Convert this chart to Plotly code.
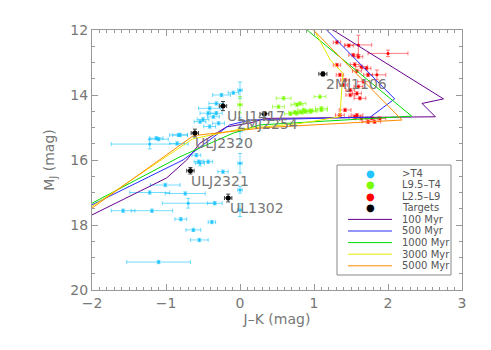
import plotly.graph_objects as go

# ---- data -------------------------------------------------------------
# >T4 (cyan)
t_x = [-1.01, -1.22, -0.74, -0.70, -0.34, -1.58, -1.19, -0.80, -0.63, -0.55,
       -1.10, -0.38, 0.00, 0.00, 0.00, -0.54, -0.23, -1.22, -1.10, -0.83,
       -0.85, -0.56, -0.59, -0.43, -1.13, -0.81, 0.00, -0.09, 0.00, -0.25,
       -0.32, -0.41, -0.43, -0.32, -0.50, -0.36, -0.41, -0.29, -0.54]
t_y = [16.77, 17.00, 17.03, 17.33, 17.33, 17.56, 17.56, 17.82, 18.15, 18.46,
       19.14, 17.91, 16.10, 16.92, 17.54, 16.10, 16.36, 15.51, 15.36, 15.23,
       15.49, 16.05, 15.85, 16.05, 15.33, 15.23, 15.10, 13.93, 13.85, 14.00,
       14.26, 14.41, 14.56, 14.56, 14.75, 14.67, 14.97, 14.87, 14.82]
t_xe = [0.20, 0.27, 0.27, 0.35, 0.10, 0.16, 0.28, 0.08, 0.10, 0.12,
        0.43, 0.05, 0.03, 0.03, 0.03, 0.06, 0.07, 0.52, 0.13, 0.12,
        0.10, 0.06, 0.06, 0.06, 0.09, 0.10, 0.03, 0.07, 0.03, 0.12,
        0.10, 0.15, 0.11, 0.08, 0.08, 0.08, 0.08, 0.08, 0.08]
t_ye = [0.05, 0.05, 0.05, 0.15, 0.05, 0.05, 0.05, 0.05, 0.05, 0.05,
        0.05, 0.05, 0.30, 0.10, 0.20, 0.08, 0.05, 0.15, 0.05, 0.05,
        0.05, 0.05, 0.05, 0.05, 0.05, 0.05, 0.40, 0.05, 0.25, 0.05,
        0.05, 0.05, 0.05, 0.05, 0.05, 0.05, 0.05, 0.05, 0.05]

# L9.5-T4 (green)
lt_x = [0.00, 0.59, 0.52, 0.77, 0.88, 0.77, 0.68, 0.81, 0.86, 1.08,
        1.10, 1.10, 0.97, 0.95, 0.83, 0.74]
lt_y = [14.30, 14.10, 14.36, 14.30, 14.51, 14.56, 14.58, 14.26, 14.46, 14.05,
        14.41, 14.46, 14.48, 14.51, 14.53, 14.53]
lt_xe = [0.03, 0.10, 0.08, 0.08, 0.08, 0.08, 0.08, 0.08, 0.08, 0.08,
         0.08, 0.08, 0.08, 0.08, 0.08, 0.08]
lt_ye = [0.25, 0.05, 0.05, 0.05, 0.05, 0.05, 0.05, 0.05, 0.05, 0.05,
         0.05, 0.05, 0.05, 0.05, 0.05, 0.05]

# L2.5-L9 (red)
l_x = [1.31, 1.47, 1.60, 2.00, 1.53, 1.60, 1.55, 1.64, 1.71, 1.58,
       1.73, 1.85, 1.42, 1.67, 1.60, 1.49, 1.58, 1.49, 1.62, 1.31,
       1.35, 1.40, 1.42, 1.58, 1.64, 1.78, 1.82, 1.73, 1.89, 1.35, 1.55]
l_y = [12.38, 12.48, 12.46, 12.72, 12.77, 12.82, 13.06, 13.13, 13.18, 13.26,
       13.38, 13.38, 13.54, 13.59, 13.74, 13.85, 13.95, 14.00, 14.10, 13.08,
       13.38, 13.69, 14.46, 14.62, 14.72, 14.72, 14.82, 14.82, 14.72, 14.62, 14.67]
l_xe = [0.05, 0.06, 0.18, 0.27, 0.06, 0.06, 0.06, 0.08, 0.06, 0.06,
        0.06, 0.12, 0.06, 0.08, 0.06, 0.06, 0.06, 0.06, 0.08, 0.05,
        0.05, 0.05, 0.08, 0.08, 0.08, 0.08, 0.08, 0.08, 0.08, 0.06, 0.08]
l_ye = [0.05, 0.05, 0.30, 0.10, 0.05, 0.05, 0.05, 0.05, 0.05, 0.05,
        0.05, 0.15, 0.05, 0.05, 0.05, 0.05, 0.05, 0.05, 0.05, 0.05,
        0.05, 0.05, 0.05, 0.05, 0.05, 0.05, 0.05, 0.05, 0.05, 0.05, 0.05]

# targets
tg_name = ["2MJ1106", "ULJ1417", "2MJ2254", "ULJ2320", "ULJ2321", "UL1302"]
tg_x = [1.12, -0.23, 0.33, -0.61, -0.67, -0.16]
tg_y = [13.35, 14.34, 14.58, 15.17, 16.33, 17.17]
tg_xe = [0.055, 0.05, 0.06, 0.05, 0.05, 0.05]
tg_ye = [0.06, 0.14, 0.06, 0.12, 0.10, 0.12]
tg_dx = [0.02, 0.03, -0.40, -0.03, -0.02, 0.00]   # label offsets

# isochrones
iso = {
    "100 Myr": ([-2, -0.99, -0.72, -0.54, -0.18, 0.14, 0.34, 2.64, 2.46, 2.75, 1.22],
                [17.69, 16.55, 16.00, 15.48, 14.98, 14.86, 14.72, 14.67, 14.26, 14.12, 11.95]),
    "500 Myr": ([-2, -0.77, -0.14, 0.14, 1.76, 2.09, 1.15],
                [17.38, 16.00, 14.92, 14.77, 14.68, 14.12, 11.95]),
    "1000 Myr": ([-2, -0.81, -0.09, 0.27, 0.95, 2.32, 0.88],
                 [17.33, 15.90, 15.17, 14.92, 14.83, 14.65, 11.95]),
    "3000 Myr": ([-2, -0.64, 0.0, 0.8, 1.35, 1.39, 1.22, 0.99],
                 [17.43, 15.35, 15.05, 14.88, 14.67, 13.33, 12.92, 11.95]),
    "5000 Myr": ([-2, -0.63, 0.36, 0.95, 2.19, 0.97],
                 [17.48, 15.25, 15.00, 14.93, 14.77, 11.95]),
}
iso_col = {"100 Myr": "#66008c", "500 Myr": "#2a2aff", "1000 Myr": "#00dd00",
           "3000 Myr": "#e8e800", "5000 Myr": "#ff8c00"}

fig = go.Figure()

# 데이터 점 + 오차막대
def pts(x, y, xe, ye, col, ecol):
    fig.add_trace(go.Scatter(
        x=x, y=y, mode='markers', showlegend=False,
        marker=dict(color=col, size=3),
        error_x=dict(type='data', array=xe, color=ecol, thickness=1, width=2),
        error_y=dict(type='data', array=ye, color=ecol, thickness=1, width=2)))

pts(t_x, t_y, t_xe, t_ye, '#22c4ff', 'rgba(0,191,255,0.55)')
pts(lt_x, lt_y, lt_xe, lt_ye, '#7cfc00', 'rgba(124,252,0,0.6)')
pts(l_x, l_y, l_xe, l_ye, '#ff0000', 'rgba(255,0,0,0.5)')

for name, (xs, ys) in iso.items():
    fig.add_trace(go.Scatter(x=xs, y=ys, mode='lines', showlegend=False,
                             line=dict(color=iso_col[name], width=1)))

fig.add_trace(go.Scatter(
    x=tg_x, y=tg_y, mode='markers', showlegend=False,
    marker=dict(color='black', size=5),
    error_x=dict(type='data', array=tg_xe, color='#444', thickness=1, width=2),
    error_y=dict(type='data', array=tg_ye, color='#444', thickness=1, width=2)))

for n, x, y, dx in zip(tg_name, tg_x, tg_y, tg_dx):
    fig.add_annotation(x=x + dx, y=y + 0.31, text=n, showarrow=False,
                       xanchor='left', yanchor='middle',
                       font=dict(size=14, color='#777'))

# ---- hand-made legend (paper coords) ----------------------------------
# page body has an 8px margin, so the plot area is placed 8px up/left
L, T, W, H = 84, 22, 370, 260
px = lambda v: (v - 8 - L) / W
py = lambda v: (T + H - (v - 8)) / H

fig.add_shape(type='rect', xref='paper', yref='paper',
              x0=px(337), x1=px(451), y0=py(275), y1=py(165),
              line=dict(color='#888', width=1), fillcolor='white', layer='above')

leg_pts = [(">T4", '#22c4ff'), ("L9.5–T4", '#7cfc00'), ("L2.5–L9", '#ff0000'),
           ("Targets", 'black')]
row = 173
for lab, c in leg_pts:
    fig.add_annotation(xref='paper', yref='paper', x=px(370), y=py(row), text='●',
                       showarrow=False, xanchor='center', yanchor='middle',
                       font=dict(size=10, color=c))
    fig.add_annotation(xref='paper', yref='paper', x=px(400), y=py(row), text=lab,
                       showarrow=False, xanchor='left', yanchor='middle',
                       font=dict(size=10, color='#555'))
    row += 11.6
for name in iso:
    fig.add_shape(type='line', xref='paper', yref='paper', layer='above',
                  x0=px(348), x1=px(392), y0=py(row), y1=py(row),
                  line=dict(color=iso_col[name], width=1))
    fig.add_annotation(xref='paper', yref='paper', x=px(400), y=py(row), text=name,
                       showarrow=False, xanchor='left', yanchor='middle',
                       font=dict(size=10, color='#555'))
    row += 11.6

ax = dict(showline=True, linecolor='#999', linewidth=1, mirror='ticks',
          ticks='inside', ticklen=6, tickcolor='#999', showgrid=False,
          zeroline=False, tickfont=dict(size=14, color='#777'))

fig.update_xaxes(**ax, range=[-2, 3], dtick=1,
                 minor=dict(dtick=0.1, ticks='inside', ticklen=3, tickcolor='#999'),
                 title=dict(text='J–K (mag)', font=dict(size=14, color='#777'), standoff=2))
fig.update_yaxes(**ax, range=[20, 12], dtick=2,
                 minor=dict(dtick=0.5, ticks='inside', ticklen=3, tickcolor='#999'),
                 title=dict(text='M<sub>J</sub> (mag)', font=dict(size=14, color='#777'),
                            standoff=12))

fig.update_layout(
    width=491, height=350,
    margin=dict(l=L, r=491 - L - W, t=T, b=350 - T - H),
    plot_bgcolor='white', paper_bgcolor='white',
    font=dict(family='DejaVu Sans', color='#777'),
    showlegend=False)

fig.write_html("out.html")
